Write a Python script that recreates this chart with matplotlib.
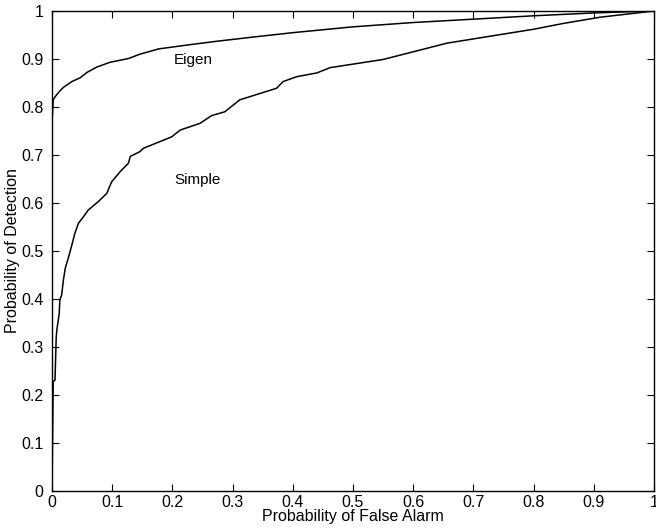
import numpy as np
import matplotlib
matplotlib.use('Agg')
import matplotlib.pyplot as plt
from matplotlib import rcParams

# ROC curves
eigen_pfa = [0, 0, 0.001, 0.002, 0.005, 0.012, 0.019, 0.033, 0.047, 0.058,
             0.074, 0.096, 0.127, 0.146, 0.177, 0.224, 0.274, 0.329, 0.401,
             0.5, 0.6, 0.7, 0.8, 0.9, 1.0]
eigen_pd = [0, 0.77, 0.79, 0.815, 0.821, 0.832, 0.841, 0.853, 0.861, 0.872,
            0.883, 0.893, 0.901, 0.910, 0.921, 0.929, 0.937, 0.945, 0.955,
            0.967, 0.976, 0.983, 0.990, 0.996, 1.0]

simple_pfa = [0, 0.002, 0.005, 0.007, 0.008, 0.012, 0.013, 0.016, 0.019, 0.022,
              0.027, 0.033, 0.038, 0.044, 0.052, 0.060, 0.077, 0.091, 0.099,
              0.113, 0.127, 0.130, 0.146, 0.152, 0.199, 0.213, 0.246, 0.265,
              0.287, 0.312, 0.373, 0.384, 0.406, 0.440, 0.462, 0.550, 0.600,
              0.656, 0.8, 0.849, 0.910, 1.0]
simple_pd = [0, 0.228, 0.231, 0.32, 0.335, 0.370, 0.398, 0.408, 0.44, 0.464,
             0.485, 0.5125, 0.537, 0.558, 0.571, 0.585, 0.603, 0.620, 0.644,
             0.665, 0.683, 0.697, 0.707, 0.714, 0.738, 0.752, 0.766, 0.782,
             0.790, 0.815, 0.839, 0.853, 0.863, 0.871, 0.882, 0.899, 0.915,
             0.933, 0.962, 0.974, 0.987, 1.0]

ticks = np.round(np.arange(0, 1.01, 0.1), 1)
tick_labels = ['0'] + [f'{t:g}' for t in ticks[1:-1]] + ['1']

rcParams['font.family'] = 'sans-serif'
rcParams['font.sans-serif'] = ['Liberation Sans', 'DejaVu Sans']
rcParams['font.size'] = 11.5

fig = plt.figure(figsize=(6.56, 5.32), dpi=100)
ax = fig.add_axes([52 / 656, 41 / 532, 602 / 656, 480 / 532])

ax.plot(eigen_pfa, eigen_pd, color='black', lw=1.1)
ax.plot(simple_pfa, simple_pd, color='black', lw=1.1)

ax.text(0.234, 0.898, 'Eigen', ha='center', va='center', fontsize=11)
ax.text(0.242, 0.648, 'Simple', ha='center', va='center', fontsize=11)

ax.set_xlim(0, 1)
ax.set_ylim(0, 1)
ax.set_xticks(ticks)
ax.set_xticklabels(tick_labels)
ax.set_yticks(ticks)
ax.set_yticklabels(tick_labels)
ax.tick_params(direction='in', top=True, right=True, length=5, width=0.8)
ax.tick_params(axis='y', pad=6)
ax.tick_params(axis='x', pad=3)
for sp in ax.spines.values():
    sp.set_color('black'); sp.set_linewidth(1.0)

ax.set_xlabel('Probability of False Alarm', labelpad=-1)
ax.set_ylabel('Probability of Detection', labelpad=1)

fig.savefig('out.png', dpi=100)
